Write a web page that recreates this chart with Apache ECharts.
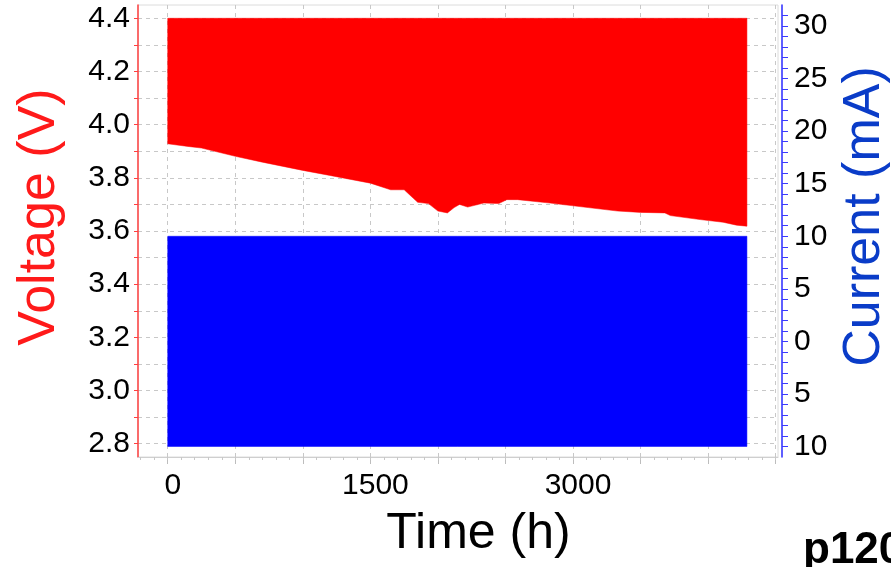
<!DOCTYPE html>
<html>
<head>
<meta charset="utf-8">
<script src="https://cdn.jsdelivr.net/npm/echarts@6/dist/echarts.min.js"></script>
<style>
  html, body { margin: 0; padding: 0; background: #fff; }
  #chart { width: 891px; height: 567px; }
</style>
</head>
<body>
<div id="chart"></div>
<script>
// lower edge of the voltage band (upper edge sits at 4.4 V the whole time)
const voltageTime = [0, 150, 250, 500, 700, 1000, 1200, 1500, 1650, 1750, 1850, 1930, 2000, 2070, 2120, 2160, 2220, 2340, 2450, 2510, 2590, 2830, 3080, 3330, 3500, 3680, 3720, 3940, 4110, 4210, 4287];
const voltageLow = [3.928, 3.918, 3.912, 3.881, 3.859, 3.828, 3.809, 3.780, 3.755, 3.755, 3.708, 3.703, 3.675, 3.668, 3.688, 3.700, 3.690, 3.705, 3.703, 3.718, 3.718, 3.705, 3.690, 3.675, 3.670, 3.668, 3.658, 3.643, 3.633, 3.622, 3.618];
const voltageHigh = 4.4;

// current swings between +10 and -10 mA over the whole run
const currentTime = [0, 4287];
const currentHigh = 10;
const currentLow = -10;

// ticks and labels
const timeTicks = [0, 500, 1000, 1500, 2000, 2500, 3000, 3500, 4000, 4500];
const timeMinorTicks = [-200, -100, 0, 100, 200, 300, 400, 500, 600, 700, 800, 900, 1000, 1100, 1200, 1300, 1400, 1500, 1600, 1700, 1800, 1900, 2000, 2100, 2200, 2300, 2400, 2500, 2600, 2700, 2800, 2900, 3000, 3100, 3200, 3300, 3400, 3500, 3600, 3700, 3800, 3900, 4000, 4100, 4200, 4300, 4400, 4500];
const timeLabels = [0, 1500, 3000];
const voltageTicks = [2.8, 2.9, 3.0, 3.1, 3.2, 3.3, 3.4, 3.5, 3.6, 3.7, 3.8, 3.9, 4.0, 4.1, 4.2, 4.3, 4.4];
const voltageLabels = [2.8, 3.0, 3.2, 3.4, 3.6, 3.8, 4.0, 4.2, 4.4];
const currentTicks = [-10, -9, -8, -7, -6, -5, -4, -3, -2, -1, 0, 1, 2, 3, 4, 5, 6, 7, 8, 9, 10, 11, 12, 13, 14, 15, 16, 17, 18, 19, 20, 21, 22, 23, 24, 25, 26, 27, 28, 29, 30, 31];
const currentLabels = [-10, -5, 0, 5, 10, 15, 20, 25, 30];

const FONT = '"Liberation Sans", Arial, Helvetica, sans-serif';

// draws the whole band as one polygon: upper edge left->right, lower edge back
function bandRenderer(color) {
  return function (params, api) {
    if (params.dataIndexInside !== 0) return null;
    const n = params.dataInsideLength;
    const top = [];
    const bottom = [];
    for (let i = 0; i < n; i++) {
      const t = api.value(0, i);
      top.push(api.coord([t, api.value(2, i)]));
      bottom.push(api.coord([t, api.value(1, i)]));
    }
    return {
      type: 'polygon',
      shape: { points: top.concat(bottom.reverse()) },
      style: { fill: color, stroke: color, lineWidth: 0.5 }
    };
  };
}

const chart = echarts.init(document.getElementById('chart'));

const option = {
  animation: false,
  textStyle: { fontFamily: FONT },
  grid: {
    left: 138,
    right: 113,
    top: 5,
    bottom: 110,
    outerBoundsMode: 'none',
    show: true,
    borderColor: '#dcdcdc',
    borderWidth: 1
  },
  xAxis: [
    {
      type: 'value',
      min: -220,
      max: 4517,
      position: 'bottom',
      name: 'Time (h)',
      nameLocation: 'middle',
      nameGap: 52,
      nameTextStyle: { fontSize: 50, color: '#000', fontFamily: FONT, padding: [0, 0, 0, 41] },
      axisLine: { show: true, onZero: false, lineStyle: { color: '#cfcfcf', width: 1 } },
      axisTick: { show: true, length: 7, customValues: timeTicks, lineStyle: { color: '#bdbdbd' } },
      axisLabel: {
        customValues: timeLabels,
        fontSize: 30,
        color: '#000',
        margin: 14,
        padding: [0, 0, 0, 10],
        formatter: v => String(v)
      },
      splitLine: { show: true, lineStyle: { color: '#c8c8c8', type: [4, 4] } }
    },
    {
      type: 'value',
      min: -220,
      max: 4517,
      position: 'bottom',
      axisLine: { show: false, onZero: false },
      axisTick: { show: true, length: 3, customValues: timeMinorTicks, lineStyle: { color: '#c8c8c8' } },
      axisLabel: { show: false },
      splitLine: { show: false }
    }
  ],
  yAxis: [
    {
      type: 'value',
      min: 2.75,
      max: 4.45,
      position: 'left',
      name: 'Voltage (V)',
      nameLocation: 'middle',
      nameRotate: 90,
      nameGap: 72,
      nameTextStyle: { fontSize: 52, color: '#ff1a1a', fontFamily: FONT, padding: [0, 0, 0, 28] },
      axisLine: { show: true, onZero: false, lineStyle: { color: '#ff4040', width: 1.5 } },
      axisTick: { show: true, length: 4, customValues: voltageTicks, lineStyle: { color: '#ff4040' } },
      axisLabel: {
        customValues: voltageLabels,
        fontSize: 30,
        color: '#000',
        margin: 8,
        padding: [6, 0, 0, 0],
        formatter: v => v.toFixed(1)
      },
      splitLine: { show: true, lineStyle: { color: '#c8c8c8', type: [4, 4] } }
    },
    {
      type: 'value',
      min: -11,
      max: 32,
      position: 'right',
      offset: 4,
      name: 'Current (mA)',
      nameLocation: 'middle',
      nameRotate: 90,
      nameGap: 52,
      nameTextStyle: { fontSize: 52, color: '#0a3cc8', fontFamily: FONT, padding: [0, 0, 0, 29] },
      axisLine: { show: true, onZero: false, lineStyle: { color: '#2a2aff', width: 1.5 } },
      axisTick: { show: true, length: 6, customValues: currentTicks, lineStyle: { color: '#3a3aff' } },
      axisLabel: {
        customValues: currentLabels,
        fontSize: 30,
        color: '#000',
        margin: 12,
        padding: [6, 0, 0, 0],
        formatter: v => String(Math.abs(v))
      },
      splitLine: { show: false }
    }
  ],
  series: [
    {
      name: 'Voltage',
      type: 'custom',
      xAxisIndex: 0,
      yAxisIndex: 0,
      silent: true,
      renderItem: bandRenderer('#ff0000'),
      encode: { x: 0, y: [1, 2] },
      data: voltageTime.map((t, i) => [t, voltageLow[i], voltageHigh])
    },
    {
      name: 'Current',
      type: 'custom',
      xAxisIndex: 0,
      yAxisIndex: 1,
      silent: true,
      renderItem: bandRenderer('#0000ff'),
      encode: { x: 0, y: [1, 2] },
      data: currentTime.map(t => [t, currentLow, currentHigh])
    }
  ],
  graphic: [
    {
      type: 'text',
      left: 803,
      top: 529,
      style: { text: 'p120', font: 'bold 44px ' + FONT, fill: '#000' }
    }
  ]
};

chart.setOption(option);
</script>
</body>
</html>
